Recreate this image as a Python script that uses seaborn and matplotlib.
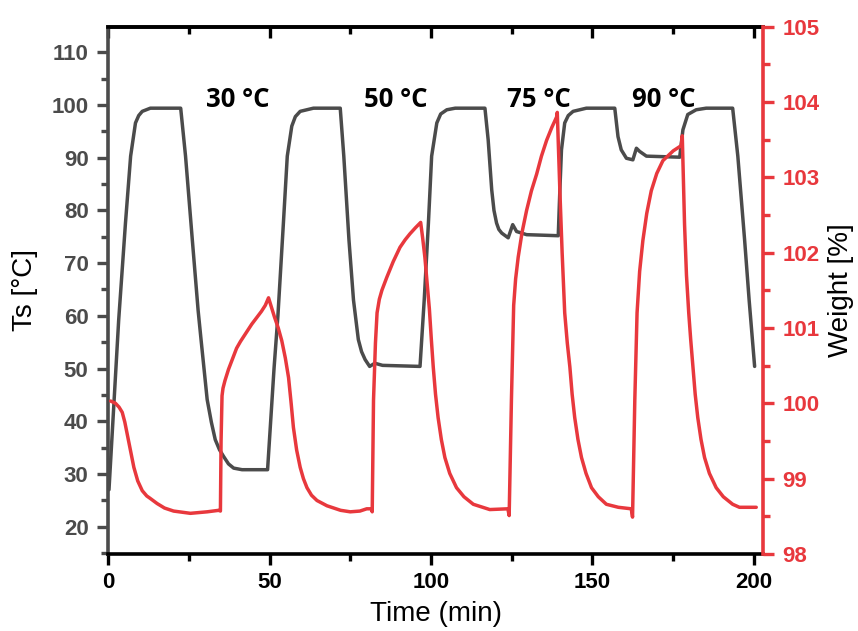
import numpy as np
import pandas as pd
import matplotlib
matplotlib.use("Agg")
import matplotlib.pyplot as plt
import seaborn as sns
from matplotlib.ticker import MultipleLocator

# ---------------- data ----------------
ts_time = [0.3, 3.3, 5.4, 7.0, 8.5, 9.5, 10.6, 13.1,
           22.5, 24.0, 26.1, 27.9, 28.8, 30.7, 32.0, 33.2, 34.5, 35.8, 37.3, 38.9, 41.5,
           49.4, 51.4, 52.6, 54.3, 55.5, 56.9, 58.0, 59.5, 63.6,
           71.9, 73.0, 74.6, 76.0, 77.5, 78.5, 79.6, 81.0, 82.6, 85.0, 96.6,
           97.9, 99.2, 100.2, 101.8, 103.0, 104.9, 107.5,
           116.7, 117.7, 118.8, 119.5, 120.3, 121.0, 121.9, 123.9, 125.3, 126.5, 129.6, 139.4,
           139.9, 140.4, 141.4, 142.5, 144.0, 148.1,
           156.9, 157.9, 158.9, 160.5, 162.5, 163.6, 164.6, 166.7, 177.0,
           178.0, 179.5, 182.1, 185.2,
           193.4, 195.0, 197.1, 198.5, 200.2]
ts_vals = [27.0, 59.2, 77.6, 90.3, 96.6, 98.0, 98.8, 99.4,
           99.4, 90.3, 74.4, 61.0, 55.5, 44.1, 39.8, 36.5, 34.6, 33.3, 31.9, 31.1, 30.8,
           30.8, 50.0, 60.0, 77.6, 90.3, 96.0, 97.8, 98.8, 99.4,
           99.4, 90.3, 74.4, 63.0, 55.5, 53.2, 51.7, 50.4, 51.0, 50.6, 50.4,
           63.0, 77.6, 90.3, 96.6, 98.3, 99.1, 99.4,
           99.4, 93.4, 83.9, 80.0, 77.6, 76.4, 75.7, 74.8, 77.3, 76.0, 75.4, 75.2,
           83.9, 91.5, 96.6, 98.0, 98.8, 99.4,
           99.4, 94.0, 91.5, 89.9, 89.6, 91.8, 91.2, 90.3, 90.1,
           95.3, 98.2, 99.1, 99.4,
           99.4, 90.3, 74.4, 63.0, 50.4]

w_time = [0.8, 2.3, 3.4, 4.4, 5.2, 5.9, 7.0, 8.0, 9.2, 10.6, 12.0, 13.0, 15.2, 17.5, 20.3, 25.5,
          30.7, 34.3, 34.8, 35.0, 35.3, 35.6, 36.2, 36.8, 37.3, 38.8, 39.8, 41.0, 43.0, 44.5,
          46.1, 47.5, 48.7, 49.7,
          51.5, 52.7, 53.8, 54.9, 55.9, 56.7, 57.4, 58.4, 59.5, 60.5, 61.6, 63.0, 64.7,
          67.8, 72.0, 75.0, 78.0, 80.1, 81.5, 81.8,
          82.2, 82.8, 83.3, 84.0, 84.8, 86.3, 88.3, 90.4, 92.0, 93.5, 95.2, 96.8,
          97.4, 98.1, 98.8, 99.5, 100.1, 100.7, 101.4, 102.2, 103.2, 104.3, 105.8, 107.9,
          110.2, 113.1, 118.2, 123.8, 124.2,
          124.9, 125.6, 126.2, 127.0, 128.2, 129.6, 131.1, 132.7, 134.2, 135.8, 137.4, 138.9, 139.1,
          139.9, 140.6, 141.4, 142.2, 143.0, 143.7, 144.5, 145.5, 146.6, 148.0, 149.7, 151.8,
          154.3, 158.0, 162.0, 162.4,
          163.1, 163.8, 164.6, 165.6, 166.8, 168.2, 169.9, 171.8, 175.0, 177.5, 177.8,
          178.5, 179.1, 179.8, 180.4, 181.1, 181.8, 182.6, 183.6, 184.7, 186.2, 188.3, 190.5,
          193.4, 195.5, 200.7]
w_vals = [100.03, 100.0, 99.95, 99.88, 99.75, 99.6, 99.37, 99.15, 98.97, 98.84, 98.77, 98.74, 98.67, 98.61, 98.57, 98.54,
          98.56, 98.58, 98.57, 99.5, 100.1, 100.2, 100.3, 100.38, 100.45, 100.62, 100.73, 100.82, 100.95, 101.05,
          101.14, 101.22, 101.3, 101.4,
          101.15, 101.0, 100.83, 100.6, 100.34, 100.0, 99.68, 99.38, 99.15, 99.0, 98.88, 98.78, 98.71,
          98.64, 98.58, 98.56, 98.57, 98.6, 98.6, 98.56,
          100.04, 100.8, 101.2, 101.38, 101.5, 101.67, 101.88, 102.07, 102.17, 102.25, 102.33, 102.4,
          102.2, 101.94, 101.6, 101.25, 100.85, 100.48, 100.12, 99.81, 99.52, 99.28, 99.07, 98.88,
          98.76, 98.66, 98.59, 98.6, 98.51,
          100.04, 101.3, 101.65, 101.94, 102.27, 102.56, 102.82, 103.04, 103.28, 103.49, 103.66, 103.8, 103.86,
          102.82, 102.0, 101.2, 100.8, 100.48, 100.12, 99.81, 99.52, 99.28, 99.07, 98.88, 98.76,
          98.66, 98.62, 98.6, 98.49,
          100.04, 101.2, 101.75, 102.16, 102.52, 102.82, 103.05, 103.22, 103.35, 103.42, 103.55,
          102.38, 101.7, 101.2, 100.85, 100.48, 100.12, 99.81, 99.52, 99.28, 99.07, 98.88, 98.76,
          98.66, 98.62, 98.62]

ann_labels = ["30 \u00b0C", "50 \u00b0C", "75 \u00b0C", "90 \u00b0C"]
ann_x = [30.2, 79.3, 123.5, 162.1]
ann_y = [99.6, 99.6, 99.6, 99.6]

# ---------------- style ----------------
sns.set_style("ticks")
plt.rcParams['font.family'] = ['Liberation Sans', 'DejaVu Sans']
plt.rcParams['font.weight'] = 'bold'

GRAY = "#4b4b4b"
RED = "#e8383d"

fig = plt.figure(figsize=(8.58, 6.31), dpi=100)
ax = fig.add_axes([0.1259, 0.122, 0.7634, 0.836])
ax2 = ax.twinx()

df_ts = pd.DataFrame({"t": ts_time, "v": ts_vals})
df_w = pd.DataFrame({"t": w_time, "v": w_vals})
sns.lineplot(data=df_ts, x="t", y="v", ax=ax, color=GRAY, lw=2.5,
             sort=False, estimator=None)
sns.lineplot(data=df_w, x="t", y="v", ax=ax2, color=RED, lw=2.5,
             sort=False, estimator=None)

ax.set_xlim(0, 202.8)
ax.set_ylim(14.8, 114.9)
ax2.set_ylim(98, 105)

ax.xaxis.set_major_locator(MultipleLocator(50))
ax.xaxis.set_minor_locator(MultipleLocator(25))
ax.yaxis.set_major_locator(MultipleLocator(10))
ax.yaxis.set_minor_locator(MultipleLocator(5))
ax2.yaxis.set_major_locator(MultipleLocator(1))
ax2.yaxis.set_minor_locator(MultipleLocator(0.5))
ax.set_yticks(np.arange(20, 111, 10))

# spines
for s in ["left", "top", "bottom", "right"]:
    ax.spines[s].set_linewidth(2.6)
    ax2.spines[s].set_linewidth(2.6)
ax.spines["left"].set_color(GRAY)
ax.spines["bottom"].set_color("black")
ax.spines["top"].set_color("black")
ax.spines["right"].set_visible(False)
ax2.spines["left"].set_visible(False)
ax2.spines["top"].set_visible(False)
ax2.spines["bottom"].set_visible(False)
ax2.spines["right"].set_color(RED)

ax.tick_params(axis="y", which="major", direction="out", length=8, width=2.4,
               color=GRAY, labelcolor=GRAY, labelsize=16, pad=6)
ax.tick_params(axis="y", which="minor", direction="out", length=5, width=2.4,
               color=GRAY)
ax.tick_params(axis="x", which="major", direction="out", length=8, width=2.4,
               color="black", labelcolor="black", labelsize=16, pad=5)
ax.tick_params(axis="x", which="minor", direction="out", length=5, width=2.4,
               color="black")
ax2.tick_params(axis="y", which="major", direction="out", length=8, width=2.4,
                color=RED, labelcolor=RED, labelsize=16, pad=6)
ax2.tick_params(axis="y", which="minor", direction="out", length=5, width=2.4,
                color=RED)

# top inward ticks
sec = ax.secondary_xaxis("top")
sec.xaxis.set_major_locator(MultipleLocator(50))
sec.xaxis.set_minor_locator(MultipleLocator(25))
sec.tick_params(axis="x", which="major", direction="in", length=8, width=2.4,
                color="black", labeltop=False)
sec.tick_params(axis="x", which="minor", direction="in", length=5, width=2.4,
                color="black", labeltop=False)
sec.spines["top"].set_linewidth(2.6)
sec.spines["top"].set_color("black")

ax.set_xlabel("Time (min)", fontsize=20, fontweight="normal", color="black",
              labelpad=6)
ax.set_ylabel("Ts [\u00b0C]", fontsize=20, fontweight="normal", color="black",
              labelpad=10)
ax2.set_ylabel("Weight [%]", fontsize=20, fontweight="normal", color="black",
               labelpad=6)

for lab, xx, yy in zip(ann_labels, ann_x, ann_y):
    ax.text(xx, yy, lab, ha="left", va="baseline", fontsize=18.5,
            fontweight="bold", family=["Open Sans", "DejaVu Sans"],
            color="black")

ax.grid(False)
ax2.grid(False)
fig.savefig("out.png", dpi=100)
